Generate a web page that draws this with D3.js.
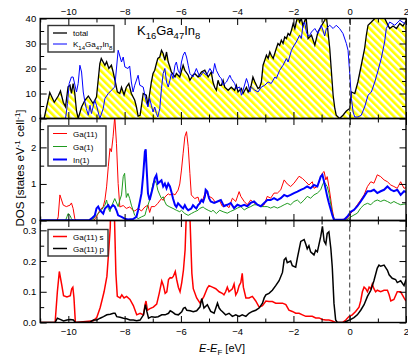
<!DOCTYPE html>
<html>
<head>
<meta charset="utf-8">
<script src="https://cdn.jsdelivr.net/npm/d3@7"></script>
<style>
  body { margin: 0; background: #fff; }
  svg { display: block; font-family: "Liberation Sans", Arial, sans-serif; }
</style>
</head>
<body>
<svg id="chart" width="408" height="359"></svg>
<script>
// energy ticks (eV)
const xMajor = [-10, -8, -6, -4, -2, 0, 2];
const xMinor = [-11, -9, -7, -5, -3, -1, 1];

// top panel: total DOS, [E, DOS]
const totalDos = [[-11,0],[-10.86,0],[-10.66,10.4],[-10.5,6.5],[-10.36,9],[-10.28,11],[-10.18,6.5],[-10.1,4.7],[-10.01,12.7],[-9.94,13.3],[-9.89,10],[-9.83,14],[-9.77,10],[-9.71,3],[-9.65,0],[-9.53,4.6],[-9.41,7.3],[-9.29,9],[-9.12,6],[-9.0,8.6],[-8.88,22],[-8.83,24],[-8.7,21.3],[-8.64,22.7],[-8.56,20],[-8.47,21.3],[-8.41,18.7],[-8.33,14.6],[-8.26,10.7],[-8.17,10],[-8.11,12.5],[-8.02,9.5],[-7.94,12.5],[-7.85,14],[-7.76,10],[-7.64,7.3],[-7.58,4.6],[-7.52,1],[-7.45,1.3],[-7.34,10],[-7.23,9.3],[-7.17,5.3],[-7.05,14.6],[-6.99,18],[-6.93,19.3],[-6.87,22],[-6.82,24],[-6.75,24.6],[-6.69,27.3],[-6.63,26],[-6.57,23.3],[-6.51,26.6],[-6.45,22.6],[-6.39,20.6],[-6.34,18.6],[-6.21,16.6],[-6.16,18],[-6.04,16.6],[-5.92,21.3],[-5.86,19.3],[-5.74,17.3],[-5.68,15.3],[-5.57,17.3],[-5.51,18],[-5.39,16.6],[-5.27,18.6],[-5.15,19.3],[-5.03,16.6],[-4.92,18.6],[-4.86,14.6],[-4.8,12.5],[-4.74,11.3],[-4.68,15.3],[-4.62,13.3],[-4.56,13.3],[-4.5,15.3],[-4.44,12.5],[-4.32,11.3],[-4.21,12.5],[-4.09,11.3],[-4.03,13.3],[-3.97,10.6],[-3.85,12],[-3.79,10],[-3.67,12.5],[-3.61,10.6],[-3.55,12],[-3.5,13.3],[-3.44,16.6],[-3.37,14.6],[-3.26,12],[-3.2,12.5],[-3.14,14.6],[-3.08,21.3],[-3.02,23.3],[-2.96,25.3],[-2.9,24],[-2.84,26.6],[-2.79,25.3],[-2.72,24],[-2.61,28],[-2.55,30],[-2.49,29.3],[-2.43,31.3],[-2.37,30],[-2.31,32.6],[-2.25,32],[-2.19,34],[-2.13,33.3],[-2.07,35.3],[-2.01,38],[-1.95,36],[-1.9,38.6],[-1.84,41],[-1.78,38.6],[-1.72,40],[-1.66,37],[-1.6,39],[-1.55,40.5],[-1.48,32],[-1.36,33.3],[-1.24,29.3],[-1.13,34.6],[-1.01,37],[-0.89,39.3],[-0.83,41],[-0.71,28],[-0.65,18.6],[-0.59,9.3],[-0.53,4],[-0.48,1.3],[-0.36,0],[-0.24,1.3],[-0.12,3],[0,4],[0.06,10.6],[0.18,10],[0.29,14.6],[0.41,21.3],[0.53,28],[0.59,33.3],[0.65,37.3],[0.77,38.6],[0.89,40],[1.0,41],[1.2,41],[1.42,36],[1.54,37],[1.66,36],[1.78,38],[1.89,37],[2.0,39]];

// top panel: K14Ga47In8
const k14Dos = [[-11,0],[-10.1,0],[-10.03,6],[-9.97,14],[-9.89,16.6],[-9.83,16.6],[-9.71,10.6],[-9.65,14],[-9.59,21.3],[-9.53,18.6],[-9.47,10.6],[-9.41,6.6],[-9.36,4],[-9.29,1.3],[-9.23,5.3],[-9.18,2],[-9.06,7.3],[-9.0,5.3],[-8.94,2.6],[-8.88,0],[-8.76,4],[-8.7,8],[-8.58,10],[-8.47,11.3],[-8.35,12.6],[-8.23,27.3],[-8.11,22.6],[-8.05,24.6],[-7.99,20.6],[-7.88,20],[-7.82,21],[-7.76,14.6],[-7.7,10.6],[-7.64,13.3],[-7.52,17.3],[-7.46,13.3],[-7.34,12.6],[-7.28,9.3],[-7.23,6.6],[-7.17,4.6],[-7.11,8],[-7.05,5.3],[-6.99,2.6],[-6.93,4.6],[-6.87,2],[-6.82,0.6],[-6.75,4],[-6.69,12],[-6.63,18],[-6.57,20],[-6.51,14.6],[-6.45,12.6],[-6.39,15.3],[-6.34,18],[-6.28,16],[-6.21,21.3],[-6.16,22.6],[-6.1,19.3],[-6.04,18],[-5.98,22.6],[-5.92,25.3],[-5.86,26.6],[-5.8,24.6],[-5.74,21.3],[-5.68,18],[-5.57,16.6],[-5.45,20],[-5.33,16.6],[-5.21,18.6],[-5.09,17.3],[-4.97,20],[-4.86,18],[-4.8,22],[-4.74,19.3],[-4.62,16.6],[-4.56,16],[-4.5,13.3],[-4.38,14.6],[-4.26,17.3],[-4.21,16],[-4.09,14],[-4.03,12],[-3.91,12.6],[-3.85,9.3],[-3.79,11.3],[-3.67,16],[-3.61,14],[-3.55,10.6],[-3.5,12.6],[-3.37,11.3],[-3.26,10.6],[-3.14,12.6],[-3.02,13.3],[-2.9,14.6],[-2.79,14],[-2.66,16.6],[-2.61,16],[-2.49,19.3],[-2.37,21.3],[-2.25,24],[-2.19,22.6],[-2.07,27.3],[-2.01,28.6],[-1.9,30.6],[-1.78,33.3],[-1.72,32],[-1.66,37.3],[-1.6,38.6],[-1.54,34.6],[-1.48,33],[-1.42,33.3],[-1.36,34.6],[-1.24,36],[-1.13,34],[-1.01,37.3],[-0.89,33],[-0.83,36],[-0.71,37.3],[-0.59,36],[-0.48,37.3],[-0.36,36],[-0.24,34],[-0.12,30],[-0.06,27.3],[0,18],[0.06,8],[0.12,2.6],[0.18,0.6],[0.29,0.6],[0.41,1.3],[0.53,4.6],[0.65,9.3],[0.77,10.6],[0.89,14.6],[1.01,19.3],[1.12,24],[1.24,30.6],[1.3,36],[1.42,38.6],[1.6,37.3],[1.78,39.3],[1.95,38],[2.0,38.5]];

// middle panel: Ga(11), Ga(1), In(1)
const ga11Dos = [[-11,0],[-10.4,0],[-10.36,0.1],[-10.3,0.7],[-10.18,0.42],[-10.07,0.38],[-9.94,0.42],[-9.89,0.48],[-9.83,0.33],[-9.77,0.05],[-9.72,0],[-9.1,0],[-9.0,0.1],[-8.88,0.28],[-8.76,0.38],[-8.7,0.56],[-8.64,0.92],[-8.58,1.47],[-8.52,1.97],[-8.47,1.88],[-8.41,2.29],[-8.35,2.85],[-8.29,2.11],[-8.23,1.01],[-8.17,0.37],[-8.05,0.41],[-7.94,0.33],[-7.82,0.37],[-7.7,0.28],[-7.64,0.26],[-7.52,0.33],[-7.4,0.26],[-7.28,0.37],[-7.17,0.42],[-7.11,0.22],[-7.05,0.38],[-6.93,0.38],[-6.82,0.47],[-6.69,0.6],[-6.63,0.55],[-6.57,0.64],[-6.45,0.73],[-6.39,0.7],[-6.28,0.73],[-6.21,0.7],[-6.1,0.83],[-6.04,1.0],[-5.98,1.38],[-5.92,1.84],[-5.86,2.29],[-5.8,2.43],[-5.74,2.02],[-5.68,1.29],[-5.63,0.7],[-5.51,0.6],[-5.39,0.64],[-5.33,0.47],[-5.21,0.6],[-5.12,0.79],[-5.0,0.66],[-4.88,0.61],[-4.76,0.48],[-4.64,0.56],[-4.53,0.39],[-4.41,0.43],[-4.29,0.35],[-4.17,0.61],[-4.05,0.52],[-3.93,0.79],[-3.87,0.66],[-3.75,0.52],[-3.64,0.43],[-3.52,0.56],[-3.4,0.48],[-3.28,0.43],[-3.16,0.39],[-3.04,0.43],[-2.93,0.66],[-2.81,0.61],[-2.69,0.75],[-2.57,0.75],[-2.45,0.84],[-2.33,1.11],[-2.22,1.0],[-2.1,0.93],[-1.98,1.02],[-1.8,1.21],[-1.68,1.15],[-1.56,1.06],[-1.45,0.97],[-1.33,1.06],[-1.27,0.88],[-1.15,0.93],[-1.03,1.2],[-0.97,1.3],[-0.91,1.34],[-0.85,1.11],[-0.8,1.2],[-0.74,0.93],[-0.67,0.56],[-0.62,0.29],[-0.56,0.06],[-0.5,0],[-0.09,0.05],[0.04,0.2],[0.15,0.29],[0.27,0.43],[0.39,0.56],[0.51,0.7],[0.63,0.93],[0.75,1.06],[0.86,1.02],[0.98,1.25],[1.1,1.2],[1.22,1.11],[1.34,1.06],[1.46,0.97],[1.57,0.93],[1.69,0.88],[1.81,1.06],[1.93,0.88],[2.0,0.9]];

const ga1Dos = [[-11,0],[-10.1,0],[-10.05,0.1],[-10.01,0.19],[-9.94,0.14],[-9.89,0.05],[-9.83,0],[-9.15,0],[-9.06,0.1],[-8.94,0.19],[-8.83,0.28],[-8.7,0.42],[-8.64,0.56],[-8.58,0.33],[-8.52,0.24],[-8.47,0.38],[-8.35,0.6],[-8.23,0.38],[-8.17,0.56],[-8.11,0.7],[-8.05,1.2],[-8.0,1.29],[-7.94,0.63],[-7.88,0.74],[-7.82,0.6],[-7.76,0.42],[-7.7,0.28],[-7.64,0.14],[-7.52,0.05],[-7.4,0.1],[-7.28,0.14],[-7.23,0.28],[-7.17,0.42],[-7.11,0.56],[-7.05,0.78],[-6.99,1.01],[-6.93,1.1],[-6.87,1.01],[-6.82,0.83],[-6.75,0.7],[-6.69,0.6],[-6.63,0.65],[-6.57,0.51],[-6.51,0.42],[-6.39,0.37],[-6.28,0.33],[-6.16,0.28],[-6.04,0.24],[-5.98,0.28],[-5.86,0.19],[-5.74,0.14],[-5.63,0.19],[-5.51,0.24],[-5.39,0.28],[-5.33,0.33],[-5.21,0.37],[-5.15,0.33],[-5.03,0.28],[-4.92,0.24],[-4.86,0.28],[-4.74,0.19],[-4.62,0.28],[-4.5,0.24],[-4.35,0.2],[-4.23,0.25],[-4.11,0.29],[-3.99,0.34],[-3.87,0.38],[-3.75,0.29],[-3.64,0.34],[-3.52,0.38],[-3.4,0.43],[-3.28,0.43],[-3.16,0.38],[-3.04,0.38],[-2.93,0.38],[-2.81,0.34],[-2.69,0.38],[-2.57,0.34],[-2.45,0.38],[-2.33,0.43],[-2.22,0.47],[-2.1,0.43],[-1.98,0.52],[-1.86,0.56],[-1.74,0.47],[-1.62,0.56],[-1.51,0.66],[-1.39,0.61],[-1.27,0.7],[-1.15,0.75],[-1.03,0.84],[-0.97,0.97],[-0.91,1.06],[-0.8,0.93],[-0.74,0.75],[-0.67,0.43],[-0.62,0.2],[-0.56,0.06],[-0.5,0],[-0.09,0.02],[0.04,0.1],[0.15,0.15],[0.27,0.2],[0.39,0.34],[0.51,0.43],[0.63,0.47],[0.75,0.43],[0.86,0.52],[0.98,0.56],[1.1,0.52],[1.22,0.56],[1.34,0.52],[1.46,0.47],[1.57,0.52],[1.69,0.47],[1.81,0.43],[1.93,0.45],[2.0,0.45]];

const in1Dos = [[-11,0.01],[-9.25,0.01],[-9.18,0.05],[-9.06,0.14],[-9.0,0.33],[-8.94,0.38],[-8.88,0.28],[-8.76,0.19],[-8.7,0.33],[-8.58,0.42],[-8.52,0.33],[-8.41,0.42],[-8.35,0.38],[-8.29,0.28],[-8.23,0.14],[-8.11,0.1],[-8.0,0.05],[-7.88,0.03],[-7.7,0.04],[-7.58,0.1],[-7.52,0.28],[-7.46,0.51],[-7.4,0.74],[-7.34,1.24],[-7.28,1.88],[-7.25,1.95],[-7.23,1.6],[-7.17,0.74],[-7.11,0.56],[-7.05,0.74],[-6.99,0.93],[-6.93,1.15],[-6.87,1.24],[-6.82,1.01],[-6.75,1.06],[-6.69,1.1],[-6.63,0.93],[-6.57,1.01],[-6.51,0.88],[-6.45,1.01],[-6.39,0.93],[-6.34,0.79],[-6.28,0.6],[-6.21,0.42],[-6.16,0.37],[-6.1,0.47],[-6.04,0.42],[-5.98,0.37],[-5.92,0.33],[-5.86,0.42],[-5.8,0.33],[-5.74,0.28],[-5.63,0.33],[-5.57,0.42],[-5.51,0.37],[-5.45,0.33],[-5.39,0.42],[-5.33,0.47],[-5.27,0.56],[-5.21,0.51],[-5.15,0.65],[-5.12,0.84],[-5.06,0.79],[-5.0,0.61],[-4.94,0.52],[-4.82,0.48],[-4.7,0.52],[-4.58,0.56],[-4.47,0.39],[-4.35,0.43],[-4.23,0.48],[-4.11,0.34],[-3.99,0.43],[-3.87,0.39],[-3.75,0.43],[-3.64,0.39],[-3.52,0.48],[-3.4,0.52],[-3.28,0.43],[-3.16,0.39],[-3.04,0.48],[-2.93,0.56],[-2.81,0.56],[-2.69,0.61],[-2.57,0.56],[-2.45,0.61],[-2.33,0.7],[-2.22,0.66],[-2.1,0.7],[-1.98,0.75],[-1.86,0.79],[-1.74,0.84],[-1.62,0.88],[-1.51,0.93],[-1.39,0.88],[-1.27,0.97],[-1.15,0.93],[-1.03,1.2],[-0.97,1.25],[-0.91,1.06],[-0.8,0.66],[-0.74,0.48],[-0.67,0.29],[-0.62,0.15],[-0.56,0.02],[-0.2,0.02],[-0.09,0.1],[0.04,0.24],[0.15,0.29],[0.27,0.39],[0.39,0.52],[0.51,0.66],[0.63,0.8],[0.75,0.8],[0.86,0.84],[0.98,0.75],[1.1,0.8],[1.22,0.84],[1.34,0.93],[1.46,0.84],[1.57,0.8],[1.69,0.84],[1.81,0.7],[1.93,0.8],[2.0,0.78]];

// bottom panel: Ga(11) s and p
const ga11sDos = [[-11,0],[-10.47,0],[-10.39,0.1],[-10.32,0.166],[-10.23,0.12],[-10.17,0.087],[-10.05,0.083],[-9.93,0.087],[-9.88,0.11],[-9.84,0.115],[-9.8,0.08],[-9.75,0],[-9.11,0.006],[-8.99,0.016],[-8.87,0.048],[-8.81,0.07],[-8.73,0.1],[-8.63,0.15],[-8.57,0.226],[-8.51,0.31],[-8.45,0.6],[-8.4,0.6],[-8.36,0.34],[-8.31,0.16],[-8.26,0.085],[-8.16,0.08],[-8.1,0.09],[-8.02,0.08],[-7.93,0.085],[-7.81,0.075],[-7.69,0.055],[-7.57,0.025],[-7.45,0.03],[-7.33,0.025],[-7.27,0.06],[-7.24,0.07],[-7.19,0.04],[-7.1,0.045],[-6.98,0.05],[-6.86,0.06],[-6.77,0.095],[-6.68,0.135],[-6.62,0.12],[-6.56,0.095],[-6.5,0.1],[-6.44,0.14],[-6.38,0.146],[-6.32,0.145],[-6.27,0.15],[-6.2,0.166],[-6.15,0.14],[-6.09,0.115],[-6.03,0.1],[-5.97,0.13],[-5.91,0.17],[-5.85,0.237],[-5.79,0.4],[-5.7,0.4],[-5.61,0.16],[-5.56,0.11],[-5.44,0.08],[-5.32,0.063],[-5.18,0.085],[-5.06,0.112],[-5.0,0.12],[-4.88,0.115],[-4.76,0.11],[-4.64,0.1],[-4.53,0.095],[-4.47,0.09],[-4.41,0.1],[-4.35,0.115],[-4.29,0.1],[-4.17,0.11],[-4.11,0.125],[-4.05,0.09],[-3.99,0.1],[-3.93,0.12],[-3.87,0.13],[-3.82,0.16],[-3.78,0.115],[-3.69,0.08],[-3.58,0.08],[-3.46,0.085],[-3.34,0.07],[-3.22,0.05],[-3.1,0.055],[-2.98,0.07],[-2.87,0.068],[-2.75,0.068],[-2.63,0.063],[-2.51,0.063],[-2.39,0.063],[-2.27,0.058],[-2.16,0.04],[-2.04,0.036],[-1.92,0.03],[-1.8,0.03],[-1.68,0.025],[-1.56,0.02],[-1.45,0.02],[-1.33,0.02],[-1.21,0.015],[-1.09,0.015],[-0.97,0.01],[-0.85,0.008],[-0.74,0.008],[-0.62,0.005],[-0.5,0],[-0.26,0],[-0.14,0.008],[-0.02,0.02],[0.09,0.025],[0.21,0.036],[0.33,0.05],[0.39,0.07],[0.45,0.1],[0.51,0.115],[0.57,0.11],[0.63,0.1],[0.69,0.115],[0.75,0.11],[0.8,0.125],[0.86,0.11],[0.92,0.1],[0.98,0.105],[1.1,0.1],[1.22,0.105],[1.34,0.105],[1.4,0.09],[1.46,0.07],[1.57,0.075],[1.69,0.1],[1.81,0.1],[1.93,0.08],[2.0,0.07]];

const ga11pDos = [[-11,0],[-10.47,0],[-10.39,0.014],[-10.29,0.01],[-10.17,0.005],[-10.05,0.008],[-9.93,0.01],[-9.82,0.008],[-9.75,0],[-9.22,0.002],[-9.11,0.008],[-8.99,0.008],[-8.87,0.014],[-8.75,0.019],[-8.63,0.025],[-8.51,0.027],[-8.4,0.03],[-8.34,0.03],[-8.28,0.019],[-8.16,0.017],[-8.04,0.014],[-7.93,0.012],[-7.81,0.008],[-7.69,0.008],[-7.57,0.006],[-7.45,0.008],[-7.33,0.025],[-7.26,0.058],[-7.21,0.036],[-7.15,0.014],[-7.04,0.019],[-6.92,0.017],[-6.81,0.019],[-6.68,0.025],[-6.56,0.025],[-6.44,0.03],[-6.38,0.038],[-6.32,0.035],[-6.2,0.027],[-6.09,0.025],[-5.97,0.035],[-5.91,0.046],[-5.85,0.049],[-5.79,0.04],[-5.67,0.038],[-5.56,0.035],[-5.44,0.038],[-5.32,0.051],[-5.26,0.078],[-5.18,0.047],[-5.06,0.058],[-5.0,0.047],[-4.94,0.036],[-4.82,0.03],[-4.7,0.063],[-4.64,0.047],[-4.58,0.04],[-4.53,0.036],[-4.41,0.025],[-4.29,0.03],[-4.17,0.02],[-4.05,0.025],[-3.93,0.02],[-3.82,0.025],[-3.69,0.02],[-3.58,0.03],[-3.46,0.036],[-3.34,0.04],[-3.22,0.047],[-3.1,0.063],[-3.04,0.08],[-2.98,0.09],[-2.87,0.095],[-2.75,0.105],[-2.63,0.12],[-2.51,0.136],[-2.39,0.163],[-2.33,0.204],[-2.27,0.21],[-2.22,0.195],[-2.1,0.2],[-2.04,0.185],[-1.92,0.18],[-1.86,0.21],[-1.74,0.264],[-1.62,0.27],[-1.56,0.255],[-1.51,0.24],[-1.45,0.25],[-1.39,0.23],[-1.33,0.225],[-1.27,0.22],[-1.21,0.235],[-1.15,0.23],[-1.09,0.255],[-1.03,0.28],[-0.97,0.313],[-0.91,0.265],[-0.85,0.255],[-0.8,0.29],[-0.74,0.295],[-0.67,0.24],[-0.62,0.18],[-0.56,0.063],[-0.5,0.008],[-0.44,0],[-0.2,0],[-0.09,0.005],[0.04,0.01],[0.15,0.016],[0.27,0.025],[0.39,0.04],[0.51,0.058],[0.63,0.085],[0.75,0.105],[0.86,0.136],[0.98,0.177],[1.04,0.187],[1.1,0.183],[1.22,0.187],[1.34,0.17],[1.4,0.155],[1.51,0.144],[1.63,0.14],[1.69,0.13],[1.81,0.136],[1.93,0.12],[2.0,0.14]];

const svg = d3.select("#chart");
const x = d3.scaleLinear().domain([-11, 2]).range([40.2, 406]);

const panels = [
  { y: d3.scaleLinear().domain([0, 40]).range([118.5, 18.5]),
    major: [0, 10, 20, 30, 40], minor: [5, 15, 25, 35], fmt: d3.format("d") },
  { y: d3.scaleLinear().domain([0, 2.79]).range([220.5, 118.5]),
    major: [0, 1, 2], minor: [0.5, 1.5, 2.5], fmt: d3.format("d") },
  { y: d3.scaleLinear().domain([0, 0.332]).range([322.5, 220.5]),
    major: [0, 0.1, 0.2, 0.3], minor: [0.05, 0.15, 0.25], fmt: d3.format(".1f") }
];

// hatch pattern for total DOS
const defs = svg.append("defs");
const pat = defs.append("pattern")
  .attr("id", "hatch").attr("patternUnits", "userSpaceOnUse")
  .attr("width", 5).attr("height", 5)
  .attr("patternTransform", "rotate(-45)");
pat.append("rect").attr("width", 5).attr("height", 5).attr("fill", "#fff");
pat.append("rect").attr("width", 2.6).attr("height", 5).attr("fill", "#ffff00");

panels.forEach((p, i) => {
  defs.append("clipPath").attr("id", "clip" + i)
    .append("rect")
    .attr("x", x.range()[0]).attr("y", p.y.range()[1])
    .attr("width", x.range()[1] - x.range()[0])
    .attr("height", p.y.range()[0] - p.y.range()[1]);
});

const lineFor = ys => d3.line().x(d => x(d[0])).y(d => ys(d[1]));

// top panel
const g0 = svg.append("g").attr("clip-path", "url(#clip0)");
g0.append("path").datum(totalDos)
  .attr("d", d3.area().x(d => x(d[0])).y0(panels[0].y(0)).y1(d => panels[0].y(d[1])))
  .attr("fill", "url(#hatch)");
g0.append("path").datum(totalDos).attr("d", lineFor(panels[0].y))
  .attr("fill", "none").attr("stroke", "#000").attr("stroke-width", 1.3);
g0.append("path").datum(k14Dos).attr("d", lineFor(panels[0].y))
  .attr("fill", "none").attr("stroke", "#0000ff").attr("stroke-width", 1);

// middle panel
const g1 = svg.append("g").attr("clip-path", "url(#clip1)");
[[ga11Dos, "#ff0000", 1], [ga1Dos, "#1f9a1f", 1], [in1Dos, "#0000ff", 2]].forEach(([data, c, w]) => {
  g1.append("path").datum(data).attr("d", lineFor(panels[1].y))
    .attr("fill", "none").attr("stroke", c).attr("stroke-width", w);
});

// bottom panel
const g2 = svg.append("g").attr("clip-path", "url(#clip2)");
[[ga11sDos, "#ff0000", 1.5], [ga11pDos, "#000", 1.5]].forEach(([data, c, w]) => {
  g2.append("path").datum(data).attr("d", lineFor(panels[2].y))
    .attr("fill", "none").attr("stroke", c).attr("stroke-width", w);
});

// Fermi level
svg.append("line")
  .attr("x1", x(0)).attr("x2", x(0))
  .attr("y1", panels[0].y.range()[1]).attr("y2", panels[2].y.range()[0])
  .attr("stroke", "#333").attr("stroke-width", 1).attr("stroke-dasharray", "5,3");

// axes
function styleAxis(sel) {
  sel.select(".domain").remove();
  sel.selectAll("line").attr("stroke", "#000").attr("stroke-width", 1);
  sel.selectAll("text").attr("font-size", 9.5).attr("fill", "#000")
    .attr("font-family", "Liberation Sans, Arial, sans-serif");
}
panels.forEach((p, i) => {
  const top = p.y.range()[1], bot = p.y.range()[0];
  const left = x.range()[0], right = x.range()[1];
  // x ticks
  svg.append("g").attr("transform", `translate(0,${bot})`)
    .call(d3.axisBottom(x).tickValues(xMajor).tickSize(-6.5).tickPadding(6)
      .tickFormat(i === 2 ? d3.format("d") : ""))
    .call(styleAxis);
  svg.append("g").attr("transform", `translate(0,${bot})`)
    .call(d3.axisBottom(x).tickValues(xMinor).tickSize(-4).tickFormat(""))
    .call(styleAxis);
  svg.append("g").attr("transform", `translate(0,${top})`)
    .call(d3.axisTop(x).tickValues(xMajor).tickSize(-6.5).tickPadding(3.5)
      .tickFormat(i === 0 ? d3.format("d") : ""))
    .call(styleAxis);
  svg.append("g").attr("transform", `translate(0,${top})`)
    .call(d3.axisTop(x).tickValues(xMinor).tickSize(-4).tickFormat(""))
    .call(styleAxis);
  // y ticks
  svg.append("g").attr("transform", `translate(${left},0)`)
    .call(d3.axisLeft(p.y).tickValues(p.major).tickSize(-6.5).tickPadding(4).tickFormat(p.fmt))
    .call(styleAxis);
  svg.append("g").attr("transform", `translate(${left},0)`)
    .call(d3.axisLeft(p.y).tickValues(p.minor).tickSize(-4).tickFormat(""))
    .call(styleAxis);
  svg.append("g").attr("transform", `translate(${right},0)`)
    .call(d3.axisRight(p.y).tickValues(p.major).tickSize(-6.5).tickFormat(""))
    .call(styleAxis);
  svg.append("g").attr("transform", `translate(${right},0)`)
    .call(d3.axisRight(p.y).tickValues(p.minor).tickSize(-4).tickFormat(""))
    .call(styleAxis);
  // frame
  svg.append("rect").attr("x", left).attr("y", top)
    .attr("width", right - left).attr("height", bot - top)
    .attr("fill", "none").attr("stroke", "#000").attr("stroke-width", 1.4);
});

// title
const title = svg.append("text").attr("x", 137).attr("y", 35).attr("font-size", 13).attr("fill", "#000");
[["K", 0], ["16", 1], ["Ga", 0], ["47", 1], ["In", 0], ["8", 1]].forEach(([t, s], k, arr) => {
  const prev = k > 0 ? arr[k - 1][1] : 0;
  title.append("tspan").text(t)
    .attr("font-size", s ? 9.5 : 13)
    .attr("dy", (s - prev) * 3.5);
});

// legends
function legend(x0, y0, w, h, items) {
  const lg = svg.append("g");
  lg.append("rect").attr("x", x0).attr("y", y0).attr("width", w).attr("height", h)
    .attr("fill", "#fff").attr("stroke", "#333").attr("stroke-width", 1.4);
  items.forEach(it => {
    lg.append("line").attr("x1", x0 + 5).attr("x2", x0 + 19)
      .attr("y1", it.y).attr("y2", it.y)
      .attr("stroke", it.color).attr("stroke-width", it.width);
    const t = lg.append("text").attr("x", x0 + 25).attr("y", it.y + 3)
      .attr("font-size", 8).attr("fill", "#000");
    it.parts.forEach(([s, sub], k, arr) => {
      const prev = k > 0 ? arr[k - 1][1] : 0;
      t.append("tspan").text(s).attr("font-size", sub ? 6 : 8).attr("dy", (sub - prev) * 2.5);
    });
  });
}
legend(48, 25.5, 66, 26.5, [
  { y: 33, color: "#000", width: 1.3, parts: [["total", 0]] },
  { y: 44, color: "#0000ff", width: 1, parts: [["K", 0], ["14", 1], ["Ga", 0], ["47", 1], ["In", 0], ["8", 1]] }
]);
legend(48, 126, 58, 40, [
  { y: 133.5, color: "#ff0000", width: 1, parts: [["Ga(11)", 0]] },
  { y: 146.5, color: "#1f9a1f", width: 1, parts: [["Ga(1)", 0]] },
  { y: 159.5, color: "#0000ff", width: 2, parts: [["In(1)", 0]] }
]);
legend(48, 229.5, 60, 26.5, [
  { y: 236.5, color: "#ff0000", width: 1.5, parts: [["Ga(11) s", 0]] },
  { y: 248.5, color: "#000", width: 1.5, parts: [["Ga(11) p", 0]] }
]);

// axis titles
const xt = svg.append("text").attr("x", 222).attr("y", 352).attr("text-anchor", "middle")
  .attr("font-size", 11).attr("fill", "#000");
xt.append("tspan").text("E").attr("font-style", "italic");
xt.append("tspan").text("-");
xt.append("tspan").text("E").attr("font-style", "italic");
xt.append("tspan").text("F").attr("font-size", 8).attr("dy", 3);
xt.append("tspan").text(" [eV]").attr("dy", -3);

const yt = svg.append("text").attr("transform", "translate(24,168) rotate(-90)")
  .attr("text-anchor", "middle").attr("font-size", 11.5).attr("fill", "#000");
yt.append("tspan").text("DOS [states eV");
yt.append("tspan").text("-1").attr("font-size", 8).attr("dy", -4.5);
yt.append("tspan").text(" cell").attr("dy", 4.5);
yt.append("tspan").text("-1").attr("font-size", 8).attr("dy", -4.5);
yt.append("tspan").text("]").attr("dy", 4.5);
</script>
</body>
</html>
